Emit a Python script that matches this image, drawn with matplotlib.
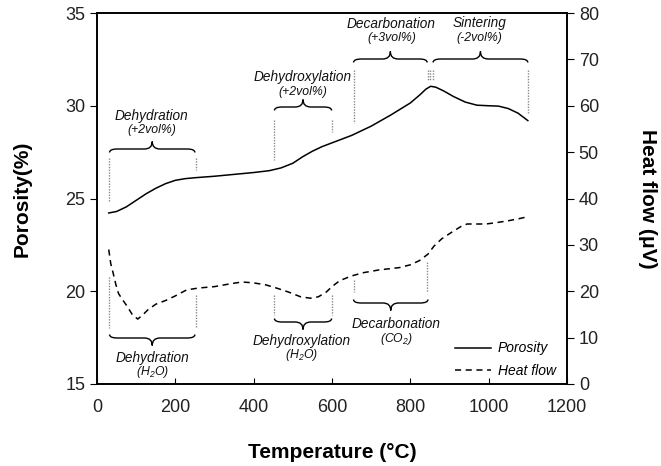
import matplotlib
matplotlib.use("Agg")
import matplotlib.pyplot as plt
from matplotlib.path import Path
from matplotlib.patches import PathPatch

plt.rcParams['font.family'] = ['Liberation Sans', 'DejaVu Sans']
plt.rcParams['mathtext.fontset'] = 'custom'
plt.rcParams['mathtext.rm'] = 'Liberation Sans:italic'
plt.rcParams['mathtext.it'] = 'Liberation Sans:italic'

# ---- data ----
por_T = [30, 50, 75, 100, 125, 150, 175, 200, 225, 250, 300, 350, 400, 440, 470,
         500, 525, 550, 575, 600, 625, 650, 700, 750, 800, 825, 840, 852, 865,
         885, 910, 940, 970, 1000, 1025, 1050, 1075, 1100]
por_val = [24.22, 24.3, 24.55, 24.9, 25.25, 25.55, 25.8, 25.98, 26.07, 26.12, 26.2,
           26.3, 26.4, 26.5, 26.65, 26.9, 27.25, 27.55, 27.8, 28.0, 28.2, 28.4,
           28.9, 29.5, 30.15, 30.6, 30.9, 31.05, 31.0, 30.8, 30.5, 30.2, 30.03,
           30.0, 29.98, 29.85, 29.6, 29.2]

hf_T = [30, 35, 41, 48, 55, 65, 75, 90, 104, 118, 130, 150, 175, 200, 229, 260,
        300, 340, 370, 400, 430, 458, 490, 520, 545, 565, 585, 600, 620, 650, 680,
        720, 772, 800, 823, 845, 860, 880, 907, 930, 945, 970, 993, 1020, 1050,
        1075, 1096]
hf_val = [29, 26, 24, 21.5, 19.5, 18.2, 17, 15, 14, 15, 16, 17.2, 18, 19, 20.3,
          20.7, 21, 21.6, 22, 21.8, 21.4, 20.7, 19.8, 18.8, 18.5, 18.8, 19.8, 21,
          22.3, 23.3, 24, 24.6, 25.1, 25.7, 26.6, 28, 29.7, 31.3, 32.8, 34, 34.5,
          34.5, 34.5, 34.8, 35.2, 35.6, 36]

x_ticks = [0, 200, 400, 600, 800, 1000, 1200]
por_ticks = [15, 20, 25, 30, 35]
hf_ticks = [0, 10, 20, 30, 40, 50, 60, 70, 80]

fig = plt.figure(figsize=(6.61, 4.66), dpi=100)
ax = fig.add_axes([97/661, 1-384/466, (567-97)/661, (384-13)/466])
ax2 = ax.twinx()

ln1, = ax.plot(por_T, por_val, color='black', lw=1.1, label='Porosity')
ln2, = ax2.plot(hf_T, hf_val, color='black', lw=1.1, ls=(0, (4, 3)), label='Heat flow')

ax.set_xlim(0, 1200)
ax.set_ylim(15, 35)
ax2.set_ylim(0, 80)
ax.set_xticks(x_ticks)
ax.set_yticks(por_ticks)
ax2.set_yticks(hf_ticks)

tc = '#222222'
ax.tick_params(axis='x', direction='in', length=4, labelsize=13, labelcolor=tc, pad=11, top=False)
ax.tick_params(axis='y', direction='out', length=5, labelsize=13, labelcolor=tc)
ax2.tick_params(axis='y', direction='out', length=5, labelsize=13, labelcolor=tc)
for a in (ax, ax2):
    for s in a.spines.values():
        s.set_linewidth(1.2)

ax.set_xlabel('Temperature (°C)', fontsize=15, fontweight='bold', labelpad=19)
ax.set_ylabel('Porosity(%)', fontsize=15, fontweight='bold', labelpad=24)
ax2.set_ylabel('Heat flow (μV)', fontsize=15, fontweight='bold', rotation=270, labelpad=42)

# ---- helpers (pixel y -> porosity data) ----
def py(y):
    return 35 - (y - 13) / 18.55

def pt(x):
    return (x - 97) / 0.3925

def brace(x0, x1, ypx, up=True):
    s = -1 if up else 1  # pixel direction of tip
    r = 20
    xm = (x0 + x1) / 2
    y = py(ypx)
    ye = py(ypx - s * 3.5)
    yt = py(ypx + s * 7.5)
    verts = [(x0, ye), (x0, y), (x0 + r, y), (xm - r, y), (xm, y), (xm, yt),
             (xm, y), (xm + r, y), (x1 - r, y), (x1, y), (x1, ye)]
    codes = [Path.MOVETO, Path.CURVE3, Path.CURVE3, Path.LINETO, Path.CURVE3, Path.CURVE3,
             Path.CURVE3, Path.CURVE3, Path.LINETO, Path.CURVE3, Path.CURVE3]
    ax.add_patch(PathPatch(Path(verts, codes), fill=False, lw=1.0, color='black'))

def vdot(x, y0px, y1px):
    ax.plot([x, x], [py(y0px), py(y1px)], color='#8a8a8a', lw=1.0, ls=(0, (1, 1)))

def label(xpx, ypx, txt, size):
    ax.text(pt(xpx), py(ypx), txt, ha='center', va='center', fontsize=size,
            fontstyle='italic', color='#111111')

MS, SS = 9.8, 8.8

# top annotations
vdot(30, 158, 202); vdot(252, 158, 170)
brace(32, 250, 149, up=True)
label(152, 116, 'Dehydration', MS); label(152, 130.5, '(+2vol%)', SS)

vdot(451, 120, 160); vdot(601, 120, 132)
brace(453, 599, 107, up=True)
label(303, 77, 'Dehydroxylation', MS); label(303, 92, '(+2vol%)', SS)

vdot(657, 70, 123)
for t in (844, 850, 857):
    vdot(t, 70, 80)
vdot(1100, 70, 113)
brace(655, 843, 59, up=True)
brace(858, 1100, 59, up=True)
label(392, 23.5, 'Decarbonation', MS); label(392, 37.5, '(+3vol%)', SS)
label(480, 23.5, 'Sintering', MS); label(480, 37.5, '(-2vol%)', SS)

# bottom annotations
vdot(30, 277, 328); vdot(252, 295, 328)
brace(32, 250, 338, up=False)
label(153, 358, 'Dehydration', MS); label(153, 372.5, '(H$_2$O)', SS)

vdot(451, 295, 315); vdot(601, 295, 315)
brace(453, 599, 322, up=False)
label(302, 340.5, 'Dehydroxylation', MS); label(302, 355, '(H$_2$O)', SS)

vdot(657, 280, 292); vdot(843, 262, 292)
brace(655, 845, 303, up=False)
label(397, 324, 'Decarbonation', MS); label(397, 339.5, '(CO$_2$)', SS)

leg = ax.legend([ln1, ln2], ['Porosity', 'Heat flow'], loc='lower right',
                bbox_to_anchor=(0.99, 0.0), frameon=False, handlelength=2.6,
                handletextpad=0.5,
                prop={'size': 10, 'style': 'italic'}, labelspacing=0.6, borderaxespad=0.05)

fig.savefig('out.png', dpi=100)
